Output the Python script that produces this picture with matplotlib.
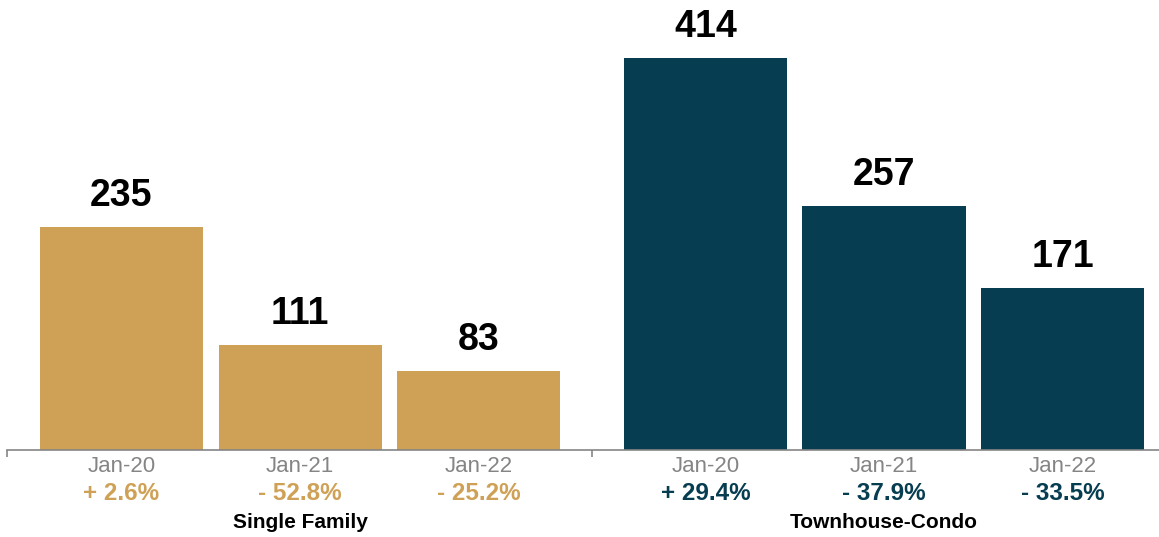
import matplotlib
matplotlib.use("Agg")
import matplotlib.pyplot as plt

# data
groups = ["Single Family", "Townhouse-Condo"]
periods = ["Jan-20", "Jan-21", "Jan-22"]
single_family = [235, 111, 83]
townhouse_condo = [414, 257, 171]
sf_change = ["+ 2.6%", "- 52.8%", "- 25.2%"]
tc_change = ["+ 29.4%", "- 37.9%", "- 33.5%"]

gold = "#CFA156"
navy = "#063D51"
grey = "#858585"

plt.rcParams["font.family"] = ["Liberation Sans", "DejaVu Sans"]

fig = plt.figure(figsize=(11.59, 5.37), dpi=100)
ax = fig.add_axes([7 / 1159, 87 / 537, 1 - 7 / 1159, 450 / 537])

gap = 3.27
width = 0.913
series = [(single_family, sf_change, gold, 0.0), (townhouse_condo, tc_change, navy, gap)]

for (vals, changes, color, offset), name in zip(series, groups):
    xs = [offset + i for i in range(len(vals))]
    ax.bar(xs, vals, width=width, color=color)
    for x, v, lab, chg in zip(xs, vals, periods, changes):
        ax.annotate(str(v), (x, v), xytext=(0, 21), textcoords="offset pixels",
                    ha="center", va="baseline", fontsize=27, fontweight="bold", color="black")
        ax.annotate(lab, (x, 0), xycoords=("data", "axes fraction"), xytext=(0, -17),
                    textcoords="offset pixels", ha="center", va="center", fontsize=16, color=grey)
        ax.annotate(chg, (x, 0), xycoords=("data", "axes fraction"), xytext=(0, -43),
                    textcoords="offset pixels", ha="center", va="center", fontsize=17.5,
                    fontweight="bold", color=color)
    ax.annotate(name, (offset + 1, 0), xycoords=("data", "axes fraction"), xytext=(0, -73),
                textcoords="offset pixels", ha="center", va="center", fontsize=15,
                fontweight="bold", color="black")

ax.set_xlim(-0.641, 5.81)
ax.set_ylim(0, 474.7)

for s in ["top", "right", "left"]:
    ax.spines[s].set_visible(False)
ax.spines["bottom"].set_color(grey)
ax.spines["bottom"].set_linewidth(1.2)
ax.set_yticks([])
ax.set_xticks([-0.641, (2 + gap) / 2])
ax.set_xticklabels([])
ax.tick_params(axis="x", length=5, width=1.2, color=grey)

fig.savefig("out.png", dpi=100)
